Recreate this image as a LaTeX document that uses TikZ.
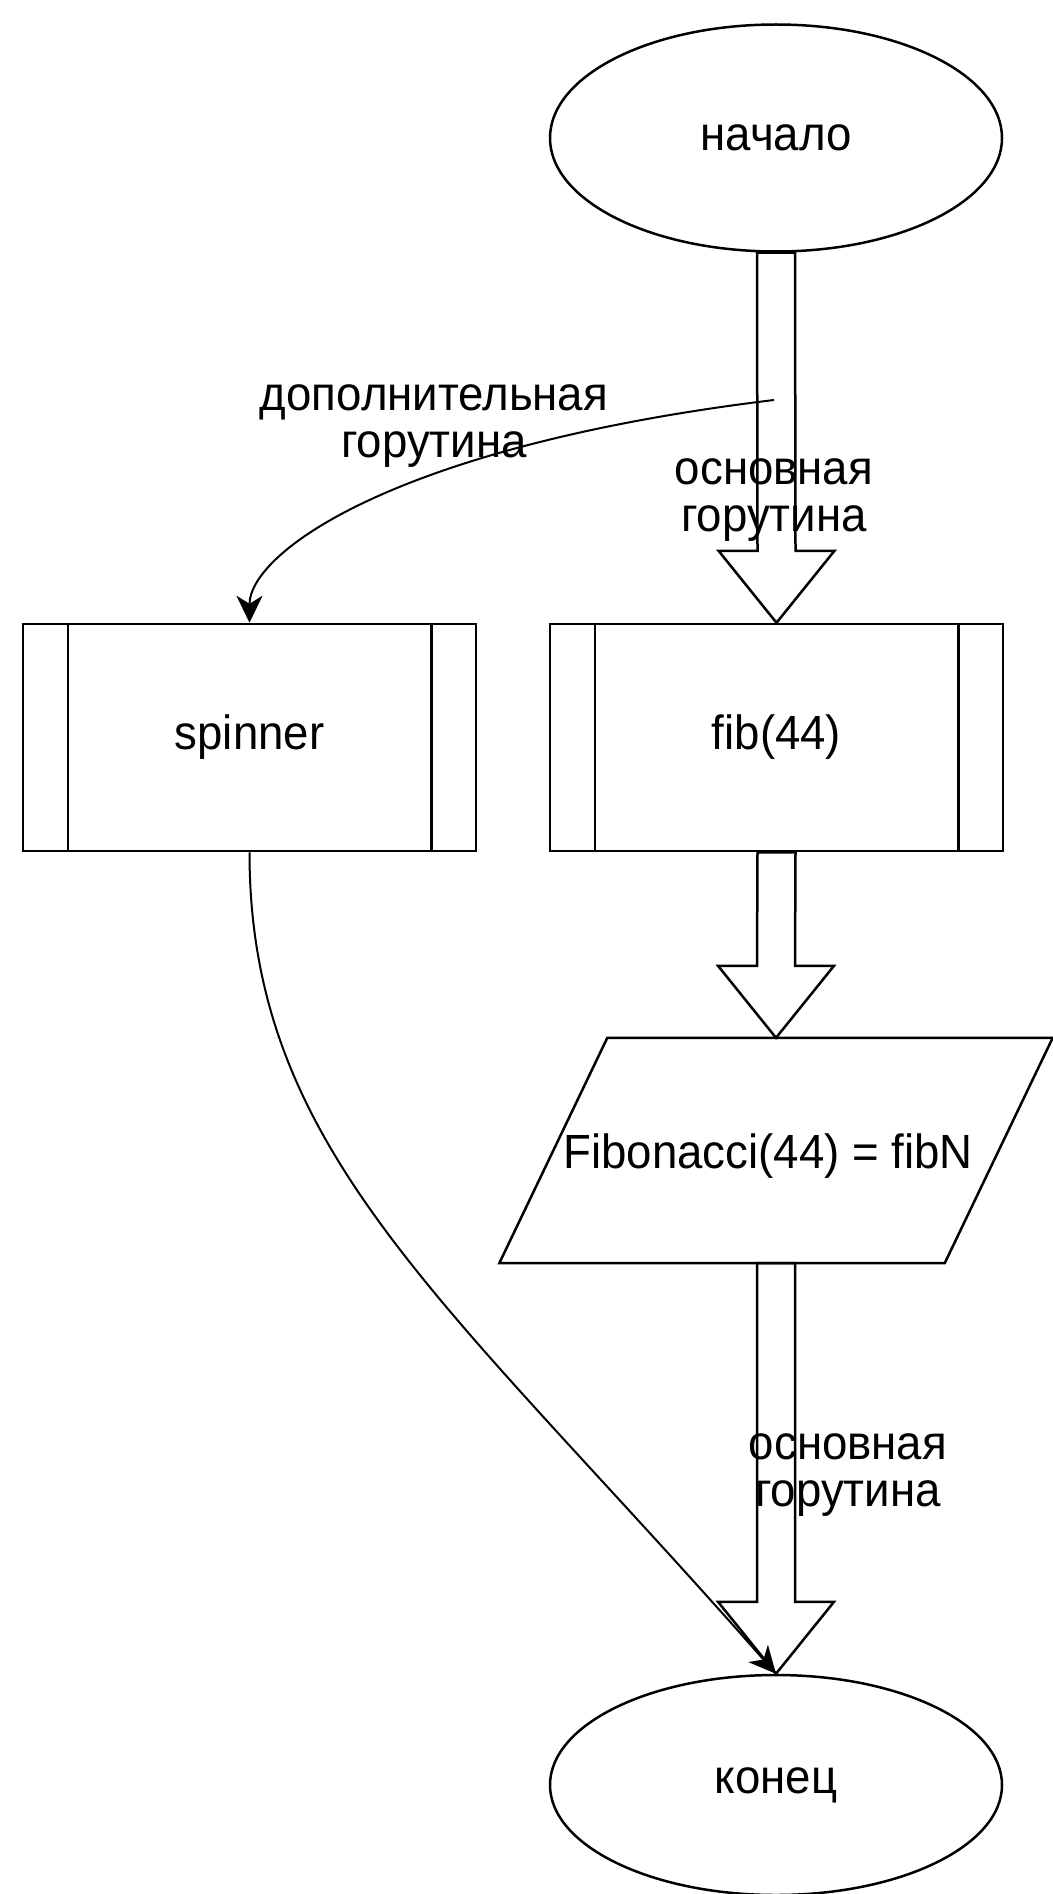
\documentclass[tikz,border=0pt]{standalone}
\usepackage{fontspec}
\setmainfont{Liberation Sans}[FakeStretch=0.95]
\usetikzlibrary{shapes.geometric,calc,arrows.meta}
\tikzset{
  lbl/.style={font=\fontsize{48}{47}\selectfont, text=black},
  termnode/.style={ellipse, draw, line width=2.5pt, minimum width=452pt, inner sep=0pt, lbl},
  procnode/.style={rectangle, draw, line width=2.5pt, minimum width=453pt, minimum height=227pt, inner sep=0pt, lbl},
  ionode/.style={rectangle, minimum width=553pt, minimum height=225pt, inner sep=0pt, lbl},
  edgelbl/.style={lbl, align=center, inner sep=0pt},
  fatline/.style={draw, line width=2.5pt, line join=miter},
  curvearrow/.style={line width=2pt, -{Stealth[length=27pt,width=26pt,inset=8pt]}},
}
\newcommand\fatarrow[2]{%
  \draw[fatline] ($(#1)+(-19,0)$) -- ($(#2)+(-19,-72)$) -- ($(#2)+(-58,-72)$) -- (#2)
    -- ($(#2)+(58,-72)$) -- ($(#2)+(19,-72)$) -- ($(#1)+(19,0)$) -- cycle;}
\begin{document}
\begin{tikzpicture}[x=1pt,y=-1pt]
\useasboundingbox (0,0) rectangle (1052,1894);
\fill[white] (0,0) rectangle (1052,1894);

% nodes
\node[termnode, minimum height=227pt] (start) at (776,138) {начало};
\node[procnode] (spinner) at (249.5,737.5) {spinner};
\node[procnode] (fib) at (776.5,737.5) {fib(44)};
\node[ionode] (io) at (776,1150.5) {\raisebox{-17.5pt}[0pt][0pt]{\hspace*{-16pt}Fibonacci(44) = fibN}};
\node[termnode, minimum height=220pt] (end) at (776,1785) {конец};

% predefined-process side bars
\foreach \n in {spinner,fib}{
  \draw[line width=2.5pt] ($(\n.north west)+(46,0)$) -- ($(\n.south west)+(46,0)$);
  \draw[line width=2.5pt] ($(\n.north east)+(-46,0)$) -- ($(\n.south east)+(-46,0)$);
}
% parallelogram
\draw[line width=2.5pt, line join=miter] (io.south west) -- ($(io.south east)+(-108,0)$)
  -- (io.north east) -- ($(io.north west)+(108,0)$) -- cycle;

% fat arrows
\fatarrow{start.south}{fib.north}
\fatarrow{fib.south}{io.north}
\fatarrow{io.south}{end.north}

% thin curved connectors
\coordinate (split) at (774,400);
\draw[curvearrow] (split) .. controls +(-380,46) and +(0,-70) .. (spinner.north);
\draw[curvearrow] (spinner.south) .. controls +(0,300) and +(-330,-375) .. (end.north);

% labels
\node[edgelbl] (lblside) at (434,426) {дополнительная\\горутина};
\node[edgelbl] (lblmain1) at (774,500) {основная\\горутина};
\node[edgelbl] (lblmain2) at (848,1475) {основная\\горутина};
\end{tikzpicture}
\end{document}
